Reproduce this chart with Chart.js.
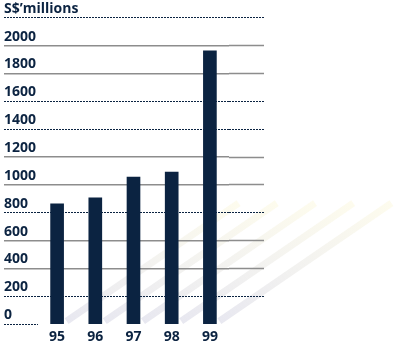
<!DOCTYPE html>
<html lang="en">
<head>
    <meta charset="UTF-8">
    <title>S$ millions</title>
    <script src="https://cdn.jsdelivr.net/npm/chart.js"></script>
    <style>
        html, body { margin: 0; padding: 0; background: #fff; }
        .chart-container {
            position: relative;
            width: 398px;
            height: 350px;
        }
    </style>
</head>
<body>
    <div class="chart-container">
        <canvas id="revenueChart"></canvas>
    </div>

    <script>
        // Data
        const years = ['95', '96', '97', '98', '99'];
        const revenue = [865, 908, 1056, 1092, 1962];
        const yTickLabels = ['0', '200', '400', '600', '800', '1000', '1200', '1400', '1600', '1800', '2000', ''];
        const yMax = 2200;
        const yStep = 200;

        // which grid lines are dotted navy instead of solid grey
        const dashedLines = [0, 200, 800, 1400, 1600, 2200];

        const navy = '#0b2341';
        const grey = '#8d8d8d';
        const font = { family: 'Open Sans', size: 14, weight: 'bold' };

        const isDashed = ctx => ctx.tick && dashedLines.includes(ctx.tick.value);
        const lineColor = ctx => isDashed(ctx) ? navy : grey;
        const lineWidth = ctx => isDashed(ctx) ? 1 : 1.5;
        const lineDash = ctx => isDashed(ctx) ? [2, 1] : [];

        // faint diagonal streaks behind the bars
        const streaks = {
            id: 'streaks',
            beforeDraw(chart) {
                const ctx = chart.ctx;
                const base = chart.scales.y.getPixelForValue(0);
                chart.getDatasetMeta(0).data.forEach(bar => {
                    const x0 = bar.x + bar.width / 2 + 3;
                    const y0 = base - 3;
                    const x1 = x0 + 172;
                    const y1 = y0 - 118;
                    const g = ctx.createLinearGradient(x0, y0, x1, y1);
                    g.addColorStop(0, 'rgba(222,222,234,0.7)');
                    g.addColorStop(0.5, 'rgba(236,235,230,0.6)');
                    g.addColorStop(1, 'rgba(252,249,226,0.6)');
                    ctx.save();
                    ctx.strokeStyle = g;
                    ctx.lineWidth = 7;
                    ctx.beginPath();
                    ctx.moveTo(x0, y0);
                    ctx.lineTo(x1, y1);
                    ctx.stroke();
                    ctx.restore();
                });
            }
        };

        new Chart(document.getElementById('revenueChart'), {
            type: 'bar',
            data: {
                labels: years,
                datasets: [{
                    data: revenue,
                    backgroundColor: navy,
                    barThickness: 13
                }]
            },
            options: {
                responsive: true,
                maintainAspectRatio: false,
                animation: false,
                devicePixelRatio: 1,
                layout: {
                    padding: { left: 4, right: 134, top: 0, bottom: 1 }
                },
                plugins: {
                    legend: { display: false },
                    tooltip: { enabled: false },
                    title: {
                        display: true,
                        text: 'S$\u2019millions',
                        align: 'start',
                        color: navy,
                        font: font,
                        padding: { top: 1, bottom: 0 }
                    }
                },
                scales: {
                    x: {
                        grid: { display: false, drawTicks: false },
                        border: { display: false },
                        ticks: { color: navy, font: font, padding: 4 }
                    },
                    y: {
                        min: 0,
                        max: yMax,
                        position: 'left',
                        afterFit: scale => { scale.width = 34; },
                        border: { display: false, dash: lineDash },
                        grid: {
                            color: ctx => ctx.tick && ctx.tick.value === 0 ? 'rgba(0,0,0,0)' : lineColor(ctx),
                            lineWidth: lineWidth,
                            tickLength: 34,
                            tickColor: lineColor,
                            tickWidth: lineWidth,
                            tickBorderDash: lineDash
                        },
                        ticks: {
                            stepSize: yStep,
                            color: navy,
                            font: font,
                            padding: 0,
                            crossAlign: 'far',
                            labelOffset: -9,
                            callback: (value, index) => yTickLabels[index] ?? ''
                        }
                    },
                    yRight: {
                        min: 0,
                        max: yMax,
                        position: 'right',
                        afterFit: scale => { scale.width = 35; },
                        border: { display: false },
                        grid: {
                            drawOnChartArea: false,
                            tickLength: 35,
                            tickColor: ctx => ctx.tick && ctx.tick.value === 0 ? 'rgba(0,0,0,0)' : lineColor(ctx),
                            tickWidth: lineWidth,
                            tickBorderDash: lineDash
                        },
                        ticks: { stepSize: yStep, display: false }
                    }
                }
            },
            plugins: [streaks]
        });
    </script>
</body>
</html>
